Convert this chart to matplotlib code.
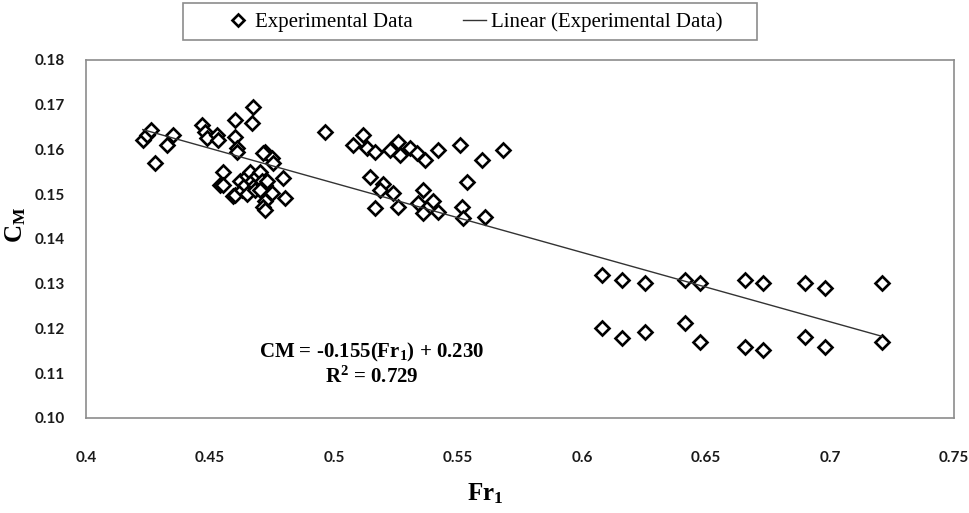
import numpy as np
import matplotlib
matplotlib.use("Agg")
import matplotlib.pyplot as plt
from matplotlib.patches import Rectangle

# Froude number (Fr1) and moment coefficient (CM)
fr1 = [
    # left group
    0.4229, 0.4245, 0.4262, 0.4278, 0.4325, 0.4352,
    0.4466, 0.4480, 0.4487, 0.4527, 0.4533, 0.4601, 0.4601, 0.4608, 0.4608,
    0.4675, 0.4668, 0.4722, 0.4749, 0.4755, 0.4554, 0.4796, 0.4540, 0.4802,
    0.4749, 0.4722, 0.4715, 0.4594, 0.4554, 0.4601, 0.4715, 0.4722,
    0.4620, 0.4630, 0.4640, 0.4650, 0.4660, 0.4670, 0.4680, 0.4690, 0.4700,
    0.4710, 0.4720, 0.4730, 0.4650, 0.4680, 0.4700,
    # middle group
    0.4964, 0.5118, 0.5078, 0.5132, 0.5165, 0.5226, 0.5259, 0.5266, 0.5306,
    0.5333, 0.5367, 0.5421, 0.5508, 0.5595, 0.5683,
    0.5145, 0.5199, 0.5185, 0.5239, 0.5165, 0.5259, 0.5360, 0.5340, 0.5360,
    0.5401, 0.5421, 0.5535, 0.5515, 0.5522, 0.5609,
    # right group
    0.6079, 0.6160, 0.6254, 0.6415, 0.6476, 0.6657, 0.6731, 0.6899, 0.6980, 0.7208,
    0.6079, 0.6160, 0.6254, 0.6415, 0.6476, 0.6657, 0.6731, 0.6899, 0.6980, 0.7208,
]
cm = [
    0.1621, 0.1632, 0.1644, 0.1569, 0.1610, 0.1632,
    0.1655, 0.1640, 0.1625, 0.1632, 0.1621, 0.1666, 0.1629, 0.1603, 0.1595,
    0.1696, 0.1659, 0.1595, 0.1580, 0.1569, 0.1550, 0.1536, 0.1521, 0.1491,
    0.1502, 0.1484, 0.1472, 0.1495, 0.1521, 0.1498, 0.1592, 0.1465,
    0.1530, 0.1510, 0.1520, 0.1540, 0.1550, 0.1530, 0.1520, 0.1540, 0.1550,
    0.1530, 0.1520, 0.1530, 0.1500, 0.1510, 0.1510,
    0.1640, 0.1632, 0.1610, 0.1603, 0.1595, 0.1599, 0.1617, 0.1588, 0.1603,
    0.1592, 0.1577, 0.1599, 0.1610, 0.1577, 0.1599,
    0.1539, 0.1524, 0.1510, 0.1502, 0.1469, 0.1472, 0.1510, 0.1480, 0.1457,
    0.1484, 0.1461, 0.1528, 0.1472, 0.1446, 0.1450,
    0.1320, 0.1308, 0.1301, 0.1308, 0.1301, 0.1308, 0.1301, 0.1301, 0.1290, 0.1301,
    0.1200, 0.1178, 0.1193, 0.1212, 0.1170, 0.1159, 0.1152, 0.1182, 0.1159, 0.1170,
]

# trendline coefficients as printed on the chart
slope = -0.155
intercept = 0.230
r2 = 0.729

xticks = [0.4, 0.45, 0.5, 0.55, 0.6, 0.65, 0.7, 0.75]
xticklabels = ["0.4", "0.45", "0.5", "0.55", "0.6", "0.65", "0.7", "0.75"]
yticks = [0.10, 0.11, 0.12, 0.13, 0.14, 0.15, 0.16, 0.17, 0.18]

plt.rcParams['mathtext.fontset'] = 'custom'
plt.rcParams['mathtext.rm'] = 'Liberation Serif:bold'
plt.rcParams['mathtext.it'] = 'Liberation Serif:italic:bold'
plt.rcParams['mathtext.bf'] = 'Liberation Serif:bold'

W, H = 969, 513
fig = plt.figure(figsize=(W/100, H/100), dpi=100)
ax = fig.add_axes([86/W, 1-418/H, 868/W, 358/H])

fr1 = np.array(fr1)
cm = np.array(cm)
ax.plot(fr1, cm, linestyle='none', marker='D', markersize=7.6,
        markerfacecolor='white', markeredgecolor='black', markeredgewidth=1.9,
        label='Experimental Data', zorder=3)

xfit = np.array([fr1.min(), fr1.max()])
ax.plot(xfit, slope*xfit + intercept, color='#333333', linewidth=1.0,
        label='Linear (Experimental Data)', zorder=4)

ax.set_xlim(0.4, 0.75)
ax.set_ylim(0.10, 0.18)
ax.set_xticks(xticks)
ax.set_xticklabels(xticklabels)
ax.set_yticks(yticks)
ax.set_yticklabels(["%.2f" % v for v in yticks])
ax.tick_params(axis='both', length=0, labelsize=11)
ax.tick_params(axis='y', pad=15)
ax.tick_params(axis='x', pad=24)
for lab in ax.get_xticklabels() + ax.get_yticklabels():
    lab.set_fontfamily('Lato')
    lab.set_fontweight('bold')
    lab.set_color('#1a1a1a')

for s in ax.spines.values():
    s.set_color('#8c8c8c')
    s.set_linewidth(1.2)

ax.set_ylabel('C$_\\mathregular{M}$', fontsize=18, fontfamily='Liberation Serif',
              fontweight='bold', labelpad=0)
ax.yaxis.set_label_coords(-58/868, (418-225)/358)
ax.set_xlabel('Fr$_\\mathregular{1}$', fontsize=18, fontfamily='Liberation Serif',
              fontweight='bold')
ax.xaxis.set_label_coords((485-86)/868, -(481-418)/358)

ax.text(0.5153, 0.1146, 'CM = %.3f(Fr$_1$) + %.3f' % (slope, intercept),
        ha='center', va='center', fontsize=15, fontfamily='Liberation Serif',
        fontweight='bold')
ax.text(0.5153, 0.1092, 'R$^2$ = %.3f' % r2,
        ha='center', va='center', fontsize=15, fontfamily='Liberation Serif',
        fontweight='bold')

# legend box at the top, frame drawn separately (wider on the left, like the source)
fig.patches.append(Rectangle((183/W, 1-40/H), (757-183)/W, 37/H,
                             transform=fig.transFigure, facecolor='white',
                             edgecolor='#8c8c8c', linewidth=1.2))
leg = fig.legend(loc='center left', bbox_to_anchor=(227/W, 1-22/H), ncol=2,
                 prop={'family': 'Liberation Serif', 'size': 15},
                 frameon=False, handlelength=1.1, handletextpad=0.25,
                 columnspacing=2.4, borderpad=0, borderaxespad=0,
                 markerscale=0.75)

fig.savefig('out.png', dpi=100)
